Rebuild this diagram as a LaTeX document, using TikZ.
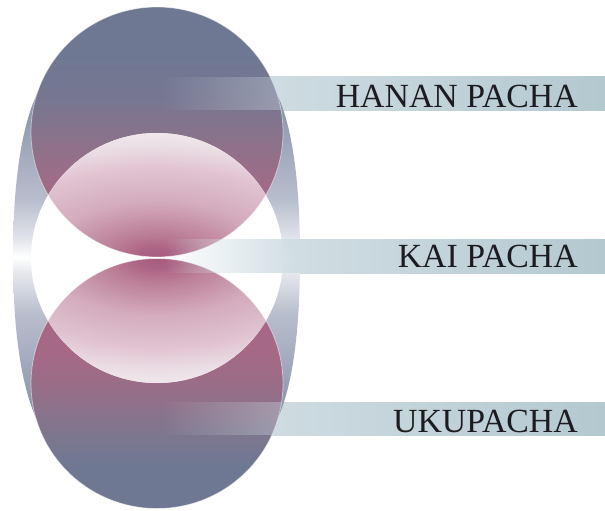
\documentclass[tikz,border=0pt]{standalone}
\usepackage{fontspec}
\setmainfont{Liberation Serif}
\usetikzlibrary{fadings}

\definecolor{slate}{RGB}{110,120,146}
\definecolor{mauve}{RGB}{172,102,132}
\definecolor{discA}{RGB}{120,118,145}
\definecolor{discB}{RGB}{135,115,140}
\definecolor{discC}{RGB}{155,110,136}
\definecolor{discD}{RGB}{165,105,133}
\definecolor{discE}{RGB}{128,118,142}
\definecolor{discF}{RGB}{152,110,136}
\definecolor{lensA}{RGB}{165,92,125}
\definecolor{lensB}{RGB}{172,100,132}
\definecolor{lensC}{RGB}{188,128,152}
\definecolor{lensD}{RGB}{212,172,189}
\definecolor{lensE}{RGB}{224,195,208}
\definecolor{lensF}{RGB}{236,224,231}
\definecolor{lensG}{RGB}{242,234,238}
\definecolor{bandA}{RGB}{128,138,162}
\definecolor{bandB}{RGB}{150,160,180}
\definecolor{bandC}{RGB}{185,190,205}
\definecolor{bandD}{RGB}{228,230,236}
\definecolor{barlight}{RGB}{208,221,227}
\definecolor{bardark}{RGB}{180,200,208}
\definecolor{textcol}{RGB}{28,28,32}

% visible range of a fitted shading: 25bp (bottom / edge) to 75bp (top)
\pgfdeclareverticalshading{topdisc}{100bp}{color(0bp)=(mauve); color(25bp)=(mauve); color(37bp)=(discD); color(42bp)=(discC); color(50bp)=(discB); color(56bp)=(discA); color(66bp)=(slate); color(100bp)=(slate)}
\pgfdeclareverticalshading{botdisc}{100bp}{color(0bp)=(slate); color(33bp)=(slate); color(41bp)=(discE); color(49bp)=(discF); color(56bp)=(discD); color(75bp)=(mauve); color(100bp)=(mauve)}
\pgfdeclareverticalshading{bandshade}{100bp}{color(0bp)=(bandA); color(25bp)=(bandA); color(31bp)=(bandB); color(41.6bp)=(bandC); color(47.5bp)=(bandD); color(50bp)=(white); color(52.5bp)=(bandD); color(58.4bp)=(bandC); color(69bp)=(bandB); color(75bp)=(bandA); color(100bp)=(bandA)}
\pgfdeclareradialshading{lensshade}{\pgfpointorigin}{color(0bp)=(lensA); color(2bp)=(lensB); color(5bp)=(lensC); color(11bp)=(lensD); color(17bp)=(lensE); color(22bp)=(lensF); color(25bp)=(lensG); color(50bp)=(lensG)}

\tikzfading[name=barfade, left color=transparent!100, right color=transparent!0]

\tikzset{
  worldlabel/.style={font=\fontsize{33.8}{40}\selectfont, text=textcol, inner sep=0pt, anchor=base east},
  barpart/.style={left color=barlight, right color=bardark},
  rim/.style={draw=white, draw opacity=0.5, line width=0.8pt}
}

\begin{document}
\begin{tikzpicture}[x=1pt,y=-1pt]
\useasboundingbox[fill=white] (0,0) rectangle (605,511);

% opaque right parts of the upper and lower bars
\shade[barpart] (250,77) rectangle (605,110);
\shade[barpart] (250,402) rectangle (605,435);

% outer band
\shade[shading=bandshade] (40,88) .. controls (20,125) and (13,190) .. (13,257)
  .. controls (13,324) and (20,389) .. (40,426) -- (274,426)
  .. controls (294,389) and (300,324) .. (300,257)
  .. controls (300,190) and (294,125) .. (274,88) -- cycle;

% upper and lower discs
\shade[shading=topdisc] (157,132) ellipse [x radius=126, y radius=125];
\shade[shading=botdisc] (157,383.5) ellipse [x radius=126, y radius=125];

% middle disc
\fill[white] (157,258) ellipse [x radius=126, y radius=125];
\begin{scope}
  \clip (157,132) ellipse [x radius=126, y radius=125];
  \clip (157,258) ellipse [x radius=126, y radius=125];
  \shade[shading=lensshade] (157,258) ellipse [x radius=260, y radius=130];
\end{scope}
\begin{scope}
  \clip (157,383.5) ellipse [x radius=126, y radius=125];
  \clip (157,258) ellipse [x radius=126, y radius=125];
  \shade[shading=lensshade] (157,258) ellipse [x radius=260, y radius=130];
\end{scope}
\path[rim] (157,132) ellipse [x radius=126, y radius=125];
\path[rim] (157,383.5) ellipse [x radius=126, y radius=125];

% bar overlays inside the discs
\begin{scope}
  \clip (157,132) ellipse [x radius=126, y radius=125];
  \fill[barlight, fill opacity=0.4, path fading=barfade] (160,77) rectangle (290,110);
\end{scope}
\begin{scope}
  \clip (157,383.5) ellipse [x radius=126, y radius=125];
  \fill[barlight, fill opacity=0.4, path fading=barfade] (160,402) rectangle (290,435);
\end{scope}
\fill[barlight, path fading=barfade] (165,239) rectangle (300.5,273);
\shade[barpart] (300,239) rectangle (605,273);

% labels
\node[worldlabel] (hanan) at (578,107) {HANAN PACHA};
\node[worldlabel] (kai) at (578,267) {KAI PACHA};
\node[worldlabel] (uku) at (578,432) {UKUPACHA};
\end{tikzpicture}
\end{document}
